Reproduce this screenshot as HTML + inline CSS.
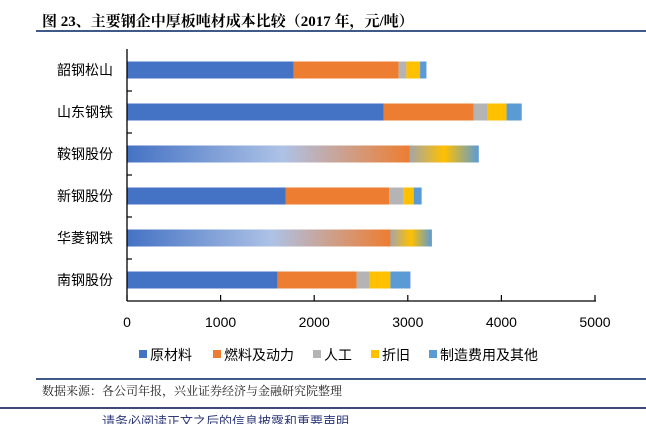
<!DOCTYPE html>
<html><head><meta charset="utf-8">
<style>
body{margin:0;background:#fff;font-family:"Liberation Sans","Noto Sans CJK SC",sans-serif;}
#wrap{position:relative;width:646px;height:424px;overflow:hidden;}
.title{position:absolute;left:42px;top:10px;font-family:"Liberation Serif","Noto Serif CJK SC",serif;font-weight:bold;font-size:15px;color:#000;}
.src{position:absolute;left:42px;top:382px;font-family:"Liberation Serif","Noto Serif CJK SC",serif;font-size:12px;color:#222;}
.foot{position:absolute;left:102px;top:411px;font-size:13px;color:#2f3a7a;}
</style></head><body>
<div id="wrap">
<div class="title">图 23、主要钢企中厚板吨材成本比较（2017 年，元/吨）</div>
<div style="position:absolute;left:36px;top:30px;width:610px;height:2px;background:#3f5a86"></div>
<svg id="chart" width="646" height="424" style="position:absolute;left:0;top:0">
<defs>
<linearGradient id="g1" x1="0" x2="1" y1="0" y2="0">
<stop offset="0" stop-color="#4472c4"/><stop offset="0.55" stop-color="#adc2e6"/><stop offset="1" stop-color="#ed7d31"/></linearGradient>
<linearGradient id="g2" x1="0" x2="1" y1="0" y2="0">
<stop offset="0" stop-color="#a5a5a5"/><stop offset="0.5" stop-color="#ffc000"/><stop offset="1" stop-color="#5b9bd5"/></linearGradient>
</defs>
</svg>
<div class="src">数据来源：各公司年报，兴业证券经济与金融研究院整理</div>
<div style="position:absolute;left:36px;top:378px;width:610px;height:2px;background:#3f5a86"></div>
<div style="position:absolute;left:0;top:407px;width:646px;height:2px;background:#3f4a7a"></div>
<div class="foot">请务必阅读正文之后的信息披露和重要声明</div>
</div>
<script>
const categories=["韶钢松山","山东钢铁","鞍钢股份","新钢股份","华菱钢铁","南钢股份"];
const seriesNames=["原材料","燃料及动力","人工","折旧","制造费用及其他"];
const rawMaterial=[1780,2740,2050,1697,1900,1607];
const fuelPower=[1123,965,970,1103,914,847];
const labor=[82,150,150,149,163,139];
const depreciation=[146,200,450,114,151,221];
const otherCost=[68,162,137,85,128,214];
const xTicks=[0,1000,2000,3000,4000,5000];
const gradientRows=[2,4];
const colors=["#4472c4","#ed7d31","#b4b4b4","#ffc000","#5b9bd5"];
const NS="http://www.w3.org/2000/svg";
const svg=document.getElementById('chart');
const x0=127,x1=595,yTop=49,yBot=301;
const xs=v=>x0+(v/5000)*(x1-x0);
const band=(yBot-yTop)/categories.length;
function mk(t,a){const e=document.createElementNS(NS,t);for(const k in a)e.setAttribute(k,a[k]);svg.appendChild(e);return e;}
const series=[rawMaterial,fuelPower,labor,depreciation,otherCost];
categories.forEach((c,i)=>{
  const yc=yTop+band*(i+0.5),h=17;
  let acc=0;
  const grad=gradientRows.includes(i);
  series.forEach((s,j)=>{
    const r=mk('rect',{x:xs(acc),y:yc-h/2,width:xs(acc+s[i])-xs(acc),height:h,fill:colors[j]});
    
    
    acc+=s[i];
  });
  if(grad){
    const a=rawMaterial[i]+fuelPower[i];
    const g=mk('rect',{x:xs(0),y:yc-h/2,width:xs(a)-xs(0),height:h,fill:'url(#g1)'});
    
    
    const g2=mk('rect',{x:xs(a),y:yc-h/2,width:xs(acc)-xs(a),height:h,fill:'url(#g2)'});
    
    
  }
  const t=mk('text',{x:113,y:yc+5,'text-anchor':'end','font-size':'14',fill:'#000'});
  t.textContent=c;
  
  
  if(i>0){const tk=mk('line',{x1:x0,x2:x0+5,y1:yTop+band*i,y2:yTop+band*i,stroke:'#000','stroke-width':1.2});
  }
});
const ya=mk('line',{x1:x0,x2:x0,y1:yTop,y2:yBot,stroke:'#000','stroke-width':1.3});

const xa=mk('line',{x1:x0,x2:x1+1,y1:yBot,y2:yBot,stroke:'#000','stroke-width':1.3});

xTicks.forEach(v=>{
  const l=mk('line',{x1:xs(v),x2:xs(v),y1:yBot-6,y2:yBot,stroke:'#000','stroke-width':1.2});
  
  const t=mk('text',{x:xs(v),y:327,'text-anchor':'middle','font-size':'14',fill:'#000'});
  t.textContent=v;
  
});
const legendX=[139,213,313,371,429];
seriesNames.forEach((n,j)=>{
  const r=mk('rect',{x:legendX[j],y:350,width:8,height:8,fill:colors[j]});
  
  const t=mk('text',{x:legendX[j]+11,y:360,'font-size':'14',fill:'#000'});
  t.textContent=n;
  
});
</script>
</body></html>
